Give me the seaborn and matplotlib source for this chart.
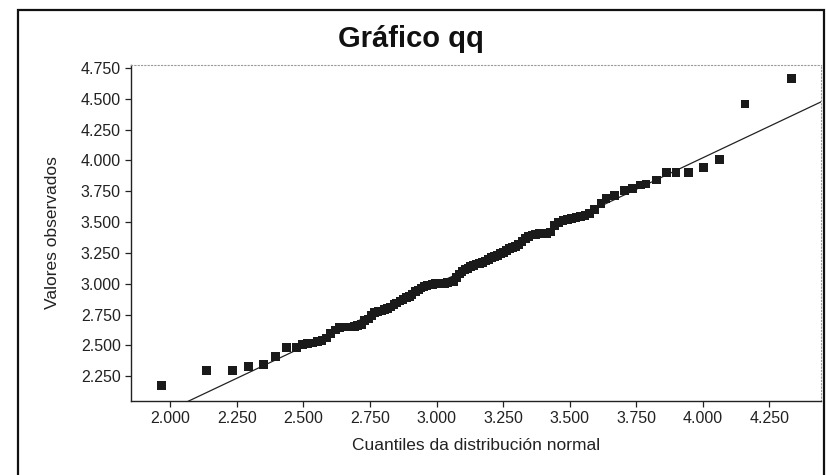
import matplotlib
matplotlib.use("Agg")
import matplotlib.pyplot as plt
import seaborn as sns
import pandas as pd
from matplotlib.patches import Rectangle
from matplotlib.ticker import FixedLocator, FuncFormatter

# ---- data ----
theoretical_q = [
    1.965, 2.135, 2.232, 2.292, 2.349, 2.395, 2.436, 2.473, 2.495, 2.514, 2.535, 2.552,
    2.570, 2.587, 2.603, 2.619, 2.634, 2.649, 2.663, 2.677, 2.691, 2.704, 2.717, 2.730,
    2.743, 2.756, 2.768, 2.780, 2.792, 2.804, 2.816, 2.828, 2.840, 2.851, 2.863, 2.874,
    2.886, 2.897, 2.908, 2.920, 2.931, 2.942, 2.953, 2.964, 2.975, 2.986, 2.997, 3.008,
    3.019, 3.030, 3.041, 3.052, 3.063, 3.074, 3.085, 3.096, 3.107, 3.118, 3.129, 3.140,
    3.151, 3.162, 3.173, 3.184, 3.195, 3.206, 3.217, 3.228, 3.240, 3.251, 3.262, 3.274,
    3.285, 3.297, 3.309, 3.321, 3.333, 3.346, 3.359, 3.372, 3.386, 3.400, 3.414, 3.429,
    3.444, 3.459, 3.475, 3.491, 3.507, 3.524, 3.541, 3.558, 3.575,
    3.593, 3.618, 3.637, 3.668, 3.706, 3.737, 3.766, 3.787, 3.828, 3.865, 3.900, 3.946,
    4.003, 4.064, 4.159, 4.333,
]
observed = [
    2.173, 2.300, 2.300, 2.327, 2.349, 2.408, 2.484, 2.484, 2.510, 2.517, 2.520, 2.530,
    2.540, 2.560, 2.598, 2.625, 2.645, 2.650, 2.650, 2.650, 2.655, 2.660, 2.670, 2.700,
    2.715, 2.745, 2.765, 2.775, 2.780, 2.790, 2.800, 2.812, 2.830, 2.845, 2.860, 2.875,
    2.890, 2.900, 2.910, 2.935, 2.950, 2.965, 2.975, 2.985, 2.990, 2.995, 3.000, 3.000,
    3.005, 3.005, 3.010, 3.015, 3.020, 3.050, 3.080, 3.100, 3.115, 3.125, 3.140, 3.150,
    3.160, 3.165, 3.175, 3.185, 3.195, 3.210, 3.220, 3.230, 3.245, 3.255, 3.270, 3.285,
    3.295, 3.305, 3.320, 3.340, 3.365, 3.385, 3.395, 3.400, 3.405, 3.408, 3.410, 3.420,
    3.470, 3.495, 3.510, 3.520, 3.528, 3.535, 3.545, 3.555, 3.570,
    3.600, 3.651, 3.692, 3.718, 3.753, 3.773, 3.800, 3.808, 3.840, 3.902, 3.902, 3.902,
    3.940, 4.010, 4.456, 4.664,
]
ref_x = [2.050, 4.450]
ref_y = [2.031, 4.479]

x_ticks = [2.0, 2.25, 2.5, 2.75, 3.0, 3.25, 3.5, 3.75, 4.0, 4.25]
y_ticks = [2.25, 2.5, 2.75, 3.0, 3.25, 3.5, 3.75, 4.0, 4.25, 4.5, 4.75]

title = "Gráfico qq"
x_label = "Cuantiles da distribución normal"
y_label = "Valores observados"

# ---- plot ----
sns.set_theme(style="white")
plt.rcParams["font.family"] = ["Liberation Sans", "DejaVu Sans"]

df = pd.DataFrame({"q": theoretical_q, "v": observed})
ref = pd.DataFrame({"x": ref_x, "y": ref_y})

fig = plt.figure(figsize=(8.26, 4.75), dpi=100)
ax = fig.add_axes([0.158, 0.156, 0.836, 0.707])

sns.lineplot(data=ref, x="x", y="y", ax=ax, color="#222222", linewidth=0.9,
             zorder=2, sort=False)
sns.scatterplot(data=df, x="q", y="v", ax=ax, marker="s", s=40, color="#1a1a1a",
                edgecolor="none", linewidth=0, zorder=3)

ax.set_xlim(1.850, 4.445)
ax.set_ylim(2.051, 4.772)

ax.xaxis.set_major_locator(FixedLocator(x_ticks))
ax.yaxis.set_major_locator(FixedLocator(y_ticks))
fmt = FuncFormatter(lambda v, p: f"{v:.3f}")
ax.xaxis.set_major_formatter(fmt)
ax.yaxis.set_major_formatter(fmt)

ax.tick_params(axis="both", which="major", direction="out", length=4, width=0.9,
               color="#222222", labelsize=11.5, labelcolor="#222222",
               bottom=True, left=True, top=False, right=False, pad=3)

for side in ["left", "bottom"]:
    ax.spines[side].set_color("#222222")
    ax.spines[side].set_linewidth(1.0)
for side in ["top", "right"]:
    ax.spines[side].set_color("#9a9a9a")
    ax.spines[side].set_linewidth(0.8)
    ax.spines[side].set_linestyle((0, (1, 2)))

ax.set_xlabel(x_label, fontsize=12.5, color="#222222", labelpad=9)
ax.set_ylabel(y_label, fontsize=12.5, color="#222222", labelpad=15)

fig.text(0.497, 0.918, title, ha="center", va="center", fontsize=21,
         fontweight="bold", color="#111111")

# outer frame of the original panel
frame = Rectangle((18 / 826, -0.2), (824 - 18) / 826, 1.2 - 10 / 475,
                  transform=fig.transFigure, fill=False, edgecolor="#111111",
                  linewidth=1.6, clip_on=False)
fig.patches.append(frame)

fig.savefig("out.png", dpi=100, facecolor="white")
